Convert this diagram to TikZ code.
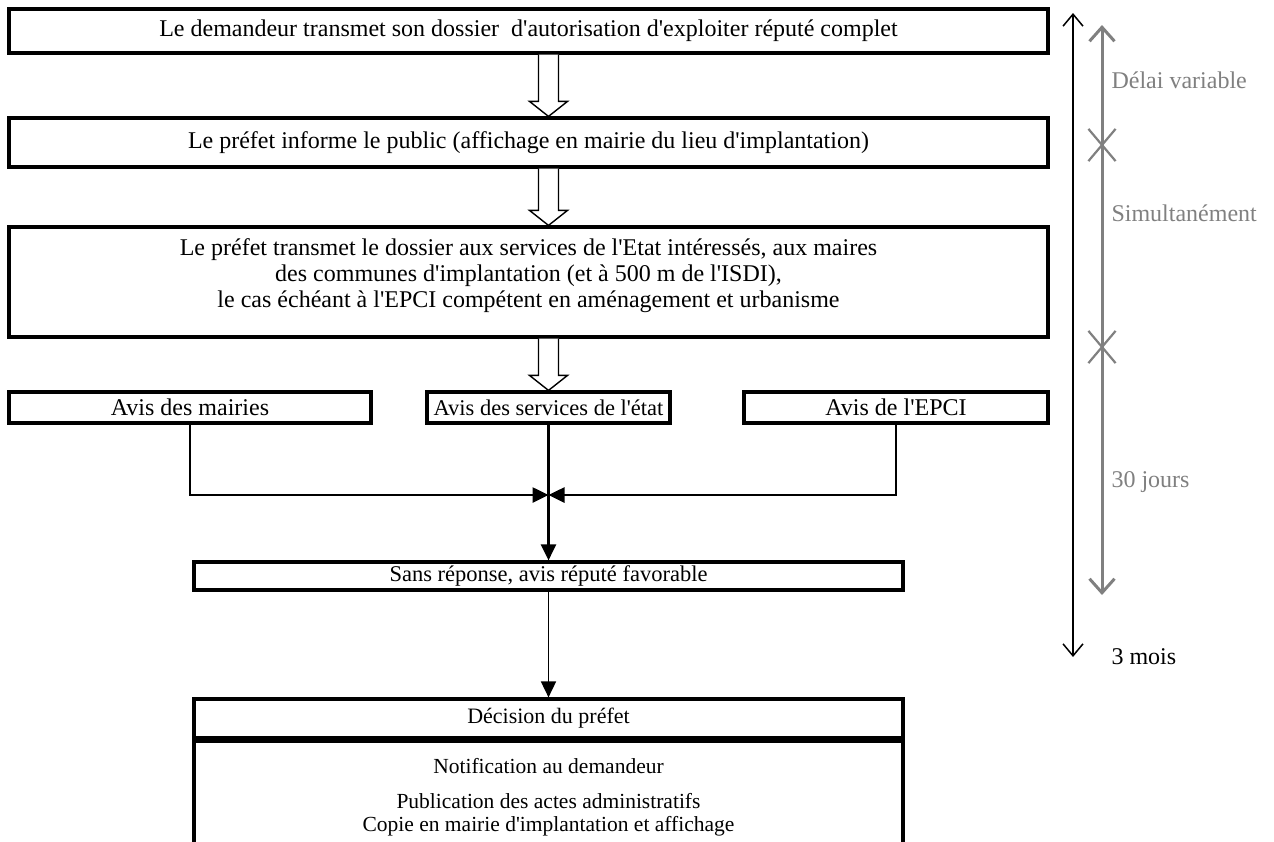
\documentclass[tikz,border=0pt]{standalone}
\usepackage{fontspec}
\setmainfont{Liberation Serif}[Ligatures=TeXOff]
\usetikzlibrary{arrows.meta, calc, shapes.misc}

\begin{document}
\begin{tikzpicture}[x=1pt, y=-1pt, >={Triangle[length=16pt, width=15pt]},
    font=\fontsize{24}{26}\selectfont,
    box/.style={draw, line width=3.2pt, inner sep=0pt, align=center},
    small/.style={font=\fontsize{21.5}{24}\selectfont},
    blockarr/.style={draw, line width=1.4pt, fill=white},
    flow/.style={->, line width=2.6pt},
    barb/.style={{Straight Barb[length=12pt, width=20pt]}-{Straight Barb[length=12pt, width=20pt]}},
    gbarb/.style={{Straight Barb[length=14pt, width=25pt]}-{Straight Barb[length=14pt, width=25pt]}},
    delai/.style={text=gray, anchor=west}]
    \useasboundingbox (0,0) rectangle (1274,841);
    \clip (0,0) rectangle (1274,841);

    % etapes de la procedure
    \node[box, minimum width=1039, minimum height=44] (dossier) at (528.5, 31)
        {Le demandeur transmet son dossier \ d'autorisation d'exploiter réputé complet};
    \node[box, minimum width=1039, minimum height=49] (public) at (528.5, 142.5)
        {Le préfet informe le public (affichage en mairie du lieu d'implantation)};
    \node[box, minimum width=1039, minimum height=110] (transmet) at (528.5, 282) {};
    \node[align=center, inner sep=0pt] (transmettxt) at (528.5, 276)
        {Le préfet transmet le dossier aux services de l'Etat intéressés, aux maires\\
         des communes d'implantation (et à 500 m de l'ISDI),\\
         le cas échéant à l'EPCI compétent en aménagement et urbanisme};
    \node[box, minimum width=362, minimum height=31] (mairies) at (190, 407.5) {Avis des mairies};
    \node[box, font=\fontsize{22.5}{26}\selectfont, minimum width=243, minimum height=31] (etat) at (548.5, 407.5)
        {Avis des services de l'état};
    \node[box, minimum width=304, minimum height=31] (epci) at (896, 407.5) {Avis de l'EPCI};
    \node[box, font=\fontsize{22.5}{26}\selectfont, minimum width=709, minimum height=28] (sans) at (548.5, 576)
        {Sans réponse, avis réputé favorable};
    \node[box, font=\fontsize{22}{26}\selectfont, minimum width=709, minimum height=39] (decision) at (548.5, 718.5)
        {Décision du préfet};
    \node[box, minimum width=709, minimum height=104, anchor=north] (notif) at (decision.south) {};
    \node[small, align=center, inner sep=0pt] (notiftxt) at (548.5, 797)
        {Notification au demandeur\\[11pt]
         Publication des actes administratifs\\[-1pt]
         Copie en mairie d'implantation et affichage};

    % fleches creuses
    \foreach \a/\b in {dossier/public, public/transmet, transmet/etat}
        \draw[blockarr] let \p1=(\a.south), \p2=(\b.north), \p3=(etat.north) in
            (\x3-10pt,\y1) -- (\x3-10pt,\y2+15pt) -- (\x3-19pt,\y2+15pt) -- (\x3,\y2)
            -- (\x3+19pt,\y2+15pt) -- (\x3+10pt,\y2+15pt) -- (\x3+10pt,\y1);

    % avis
    \coordinate (jn) at (etat.south |- 0,495);
    \draw[flow] (mairies.south) |- (jn);
    \draw[flow] (epci.south) |- (jn);
    \draw[flow] (etat.south) -- (sans.north);
    \draw[flow, line width=1.7pt] (sans.south) -- (decision.north);

    % delais
    \coordinate (ttop) at (1073, 13);
    \coordinate (tbot) at (1073, 657);
    \draw[barb, line width=1.5pt] (ttop) -- (tbot);
    \coordinate (gtop) at (1102, 25);
    \coordinate (gbot) at (1102, 595);
    \node[cross out, draw=gray, line width=2.2pt, minimum width=25, minimum height=30, inner sep=0pt] (x1) at (1102, 145) {};
    \node[cross out, draw=gray, line width=2.2pt, minimum width=25, minimum height=30, inner sep=0pt] (x2) at (1102, 347) {};
    \draw[gbarb, draw=gray, line width=3pt] (gtop) -- (x1.center) -- (x2.center) -- (gbot);
    \node[delai] (variable) at (1108, 80) {Délai variable};
    \node[delai] (simult) at (1108, 213) {Simultanément};
    \node[delai] (jours) at (1108, 482) {30 jours};
    \node[anchor=west] (mois) at (1108, 657) {3 mois};
\end{tikzpicture}
\end{document}
